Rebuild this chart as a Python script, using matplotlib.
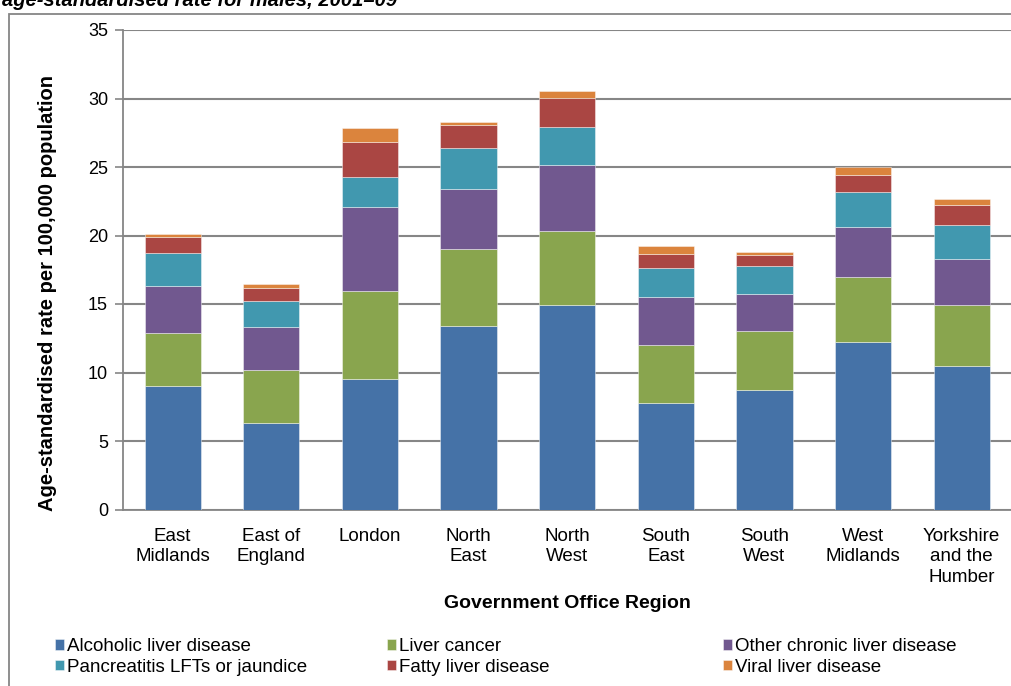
import numpy as np
import matplotlib
matplotlib.use("Agg")
import matplotlib.pyplot as plt
from matplotlib.patches import Rectangle

plt.rcParams['font.family'] = ['Liberation Sans', 'DejaVu Sans']

# regions along the x axis
regions = ['East\nMidlands', 'East of\nEngland', 'London', 'North\nEast', 'North\nWest',
           'South\nEast', 'South\nWest', 'West\nMidlands', 'Yorkshire\nand the\nHumber']

# stacked components (rate per 100,000)
alcoholic = [9.0, 6.35, 9.5, 13.4, 14.9, 7.8, 8.7, 12.25, 10.5]
liver_cancer = [3.9, 3.8, 6.45, 5.65, 5.4, 4.2, 4.3, 4.7, 4.4]
other_chronic = [3.4, 3.15, 6.1, 4.35, 4.85, 3.5, 2.75, 3.7, 3.4]
pancreatitis = [2.4, 1.95, 2.25, 3.0, 2.8, 2.1, 2.0, 2.5, 2.5]
fatty = [1.2, 0.95, 2.5, 1.7, 2.1, 1.05, 0.8, 1.3, 1.4]
viral = [0.2, 0.27, 1.05, 0.15, 0.5, 0.55, 0.27, 0.55, 0.45]

series = [
    ('Alcoholic liver disease', alcoholic, '#4572A7'),
    ('Liver cancer', liver_cancer, '#89A54E'),
    ('Other chronic liver disease', other_chronic, '#71588F'),
    ('Pancreatitis LFTs or jaundice', pancreatitis, '#4198AF'),
    ('Fatty liver disease', fatty, '#AA4643'),
    ('Viral liver disease', viral, '#DB843D'),
]

fig = plt.figure(figsize=(10.11, 6.86), dpi=100)
ax = fig.add_axes([123.3 / 1011, 1 - 509.5 / 686, 1 - 123.3 / 1011, (509.5 - 30) / 686])

x = np.arange(len(regions))
bottom = np.zeros(len(regions))
handles = []
for name, vals, color in series:
    bars = ax.bar(x, vals, 0.57, bottom=bottom, color=color, label=name,
                  edgecolor=(1, 1, 1, 0.5), linewidth=0.6, zorder=3)
    handles.append(bars)
    bottom += np.array(vals)

ax.set_xlim(-0.5, len(regions) - 0.5)
ax.set_ylim(0, 35)
ax.set_yticks(range(0, 36, 5))
ax.set_xticks(x)
ax.set_xticklabels(regions, fontsize=13.5, linespacing=1.3)
ax.tick_params(axis='x', length=0, pad=13)
ax.tick_params(axis='y', length=6, width=1.2, color='#868686', labelsize=13, pad=5)

ax.grid(axis='y', color='#868686', linewidth=1.5, zorder=0)
for s in ['top', 'right']:
    ax.spines[s].set_visible(False)
for s in ['left', 'bottom']:
    ax.spines[s].set_color('#868686')
    ax.spines[s].set_linewidth(1.3)

fig.text(48 / 1011, 1 - 293 / 686, 'Age-standardised rate per 100,000 population',
         rotation=90, ha='center', va='center', fontsize=14.5, fontweight='bold')
fig.text(567 / 1011, 1 - 604 / 686, 'Government Office Region',
         ha='center', va='center', fontsize=14, fontweight='bold')

# clipped title at the top
fig.text(2 / 1011, 1 - 6 / 686, 'age-standardised rate for males, 2001\u201309',
         ha='left', va='baseline', fontsize=14.5, fontweight='bold', fontstyle='italic')

# chart area border
fig.add_artist(Rectangle((9 / 1011, -0.1), 1.2, 1.1 - 14 / 686, transform=fig.transFigure,
                         fill=False, edgecolor='#868686', linewidth=1.3))

# legend in three columns of equal width
col_x = [55, 387, 723]
for i, cx in enumerate(col_x):
    hs = [handles[i], handles[i + 3]]
    fig.legend(hs, [h.get_label() for h in hs], loc='upper left',
               bbox_to_anchor=(cx / 1011, 1 - 638 / 686), frameon=False,
               fontsize=13.5, handlelength=0.5, handleheight=0.5,
               handletextpad=0.15, labelspacing=0.2, borderpad=0, borderaxespad=0)

fig.savefig('out.png', dpi=100)
